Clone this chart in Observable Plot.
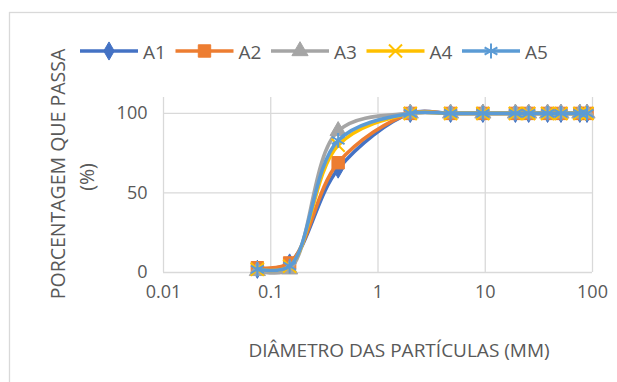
<!DOCTYPE html>
<html>
<head>
<meta charset="utf-8">
<script src="https://cdn.jsdelivr.net/npm/d3@7"></script>
<script src="https://cdn.jsdelivr.net/npm/@observablehq/plot@0.6"></script>
<style>
  html, body { margin: 0; padding: 0; background: #fff; }
</style>
</head>
<body>
<div id="chart"></div>
<script>
// ---- data ----
const sizes = [0.075, 0.15, 0.425, 2.0, 4.75, 9.5, 19.1, 25.4, 38.1, 50.8, 76.2, 88.9];
const seriesNames = ["A1", "A2", "A3", "A4", "A5"];
const A1 = [2, 6, 65, 100, 100, 100, 100, 100, 100, 100, 100, 100];
const A2 = [3, 6, 69, 100, 100, 100, 100, 100, 100, 100, 100, 100];
const A3 = [1, 2, 89, 100, 100, 100, 100, 100, 100, 100, 100, 100];
const A4 = [2, 4, 80, 100, 100, 100, 100, 100, 100, 100, 100, 100];
const A5 = [2, 4, 83, 100, 100, 100, 100, 100, 100, 100, 100, 100];
const seriesValues = [A1, A2, A3, A4, A5];
const xTicks = [0.01, 0.1, 1, 10, 100];
const yTicks = [0, 50, 100];
const xTitle = "DIÂMETRO DAS PARTÍCULAS (MM)";
const yTitle = ["PORCENTAGEM QUE PASSA", "(%)"];

// ---- styles ----
const colors = ["#4472C4", "#ED7D31", "#A5A5A5", "#FFC000", "#5B9BD5"];
const symbols = ["diamond", "square", "triangle", "times", "asterisk"];
const filled = [true, true, true, false, false];
const radii = [5.5, 7, 6, 6, 7];
const font = "'Open Sans', sans-serif";

const tables = seriesNames.map((name, i) =>
  sizes.map((s, j) => ({ series: name, size: s, pct: seriesValues[i][j] }))
);

const marks = [
  Plot.gridX(xTicks, { stroke: "#d9d9d9", strokeOpacity: 1, strokeWidth: 1.3 }),
  Plot.gridY(yTicks, { stroke: "#d9d9d9", strokeOpacity: 1, strokeWidth: 1.3 }),
];
tables.forEach((t, i) => {
  marks.push(Plot.line(t, { x: "size", y: "pct", stroke: colors[i], strokeWidth: 3.6, curve: "catmull-rom" }));
  marks.push(Plot.dot(t, {
    x: "size", y: "pct", symbol: symbols[i], r: radii[i],
    fill: filled[i] ? colors[i] : "none",
    stroke: colors[i], strokeWidth: filled[i] ? 1 : 2
  }));
});

const svgNode = Plot.plot({
  width: 617,
  height: 382,
  marginLeft: 163,
  marginRight: 25,
  marginTop: 97,
  marginBottom: 110,
  style: { fontFamily: font, fontSize: "18px", color: "#595959", background: "#fff" },
  x: { type: "log", domain: [0.01, 100], ticks: xTicks, tickFormat: d => String(d), tickSize: 0, tickPadding: 13, label: null },
  y: { domain: [0, 110], ticks: yTicks, tickSize: 0, tickPadding: 16, label: null },
  marks
});

document.getElementById("chart").appendChild(svgNode);

const svg = d3.select(svgNode);

// chart border (top & left visible)
svg.insert("rect", ":first-child")
  .attr("x", 9.5).attr("y", 12.5).attr("width", 640).attr("height", 400)
  .attr("fill", "none").attr("stroke", "#d9d9d9").attr("stroke-width", 1.3);

// axis titles
svg.append("text")
  .attr("x", 399).attr("y", 350)
  .attr("text-anchor", "middle").attr("dominant-baseline", "central")
  .attr("fill", "#595959").style("font-family", font).style("font-size", "19px")
  .text(xTitle);

const yt = svg.append("g").attr("transform", "translate(0,174) rotate(-90)");
yt.append("text").attr("x", 0).attr("y", 57)
  .attr("text-anchor", "middle").attr("dominant-baseline", "central")
  .attr("fill", "#595959").style("font-family", font).style("font-size", "19.5px")
  .text(yTitle[0]);
yt.append("text").attr("x", -3).attr("y", 86)
  .attr("text-anchor", "middle").attr("dominant-baseline", "central")
  .attr("fill", "#595959").style("font-family", font).style("font-size", "19.5px")
  .text(yTitle[1]);

// legend
const symMap = {
  diamond: d3.symbolDiamond, square: d3.symbolSquare, triangle: d3.symbolTriangle,
  times: d3.symbolTimes, asterisk: d3.symbolAsterisk
};
const lg = svg.append("g");
seriesNames.forEach((name, i) => {
  const x0 = 80 + i * 95.5;
  const y0 = 51;
  const g = lg.append("g");
  g.append("line").attr("x1", x0).attr("x2", x0 + 58).attr("y1", y0).attr("y2", y0)
    .attr("stroke", colors[i]).attr("stroke-width", 3.6);
  g.append("path")
    .attr("transform", `translate(${x0 + 29},${y0})`)
    .attr("d", d3.symbol(symMap[symbols[i]], Math.PI * radii[i] * radii[i])())
    .attr("fill", filled[i] ? colors[i] : "none")
    .attr("stroke", colors[i]).attr("stroke-width", filled[i] ? 1 : 2);
  g.append("text").attr("x", x0 + 63).attr("y", y0 + 1)
    .attr("text-anchor", "start")
    .attr("dominant-baseline", "central")
    .attr("fill", "#595959").style("font-family", font).style("font-size", "19px")
    .text(name);
});
</script>
</body>
</html>
